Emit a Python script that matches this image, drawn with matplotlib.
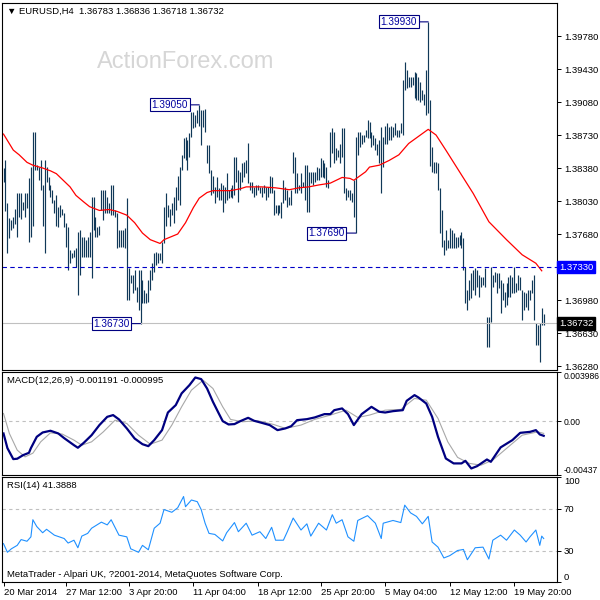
import matplotlib
matplotlib.use("Agg")
import matplotlib.pyplot as plt
import matplotlib.transforms as mtransforms
import numpy as np

plt.rcParams['font.family'] = ['Liberation Sans', 'DejaVu Sans']

# H4 bars, high / low (oldest first)
highs = [
    1.3838, 1.3846, 1.3801, 1.3785, 1.3783, 1.3786, 1.3795, 1.3811, 1.3811, 1.3811,
    1.3802, 1.3812, 1.3812, 1.3827, 1.3839, 1.3876, 1.3876, 1.3841, 1.3839, 1.3846,
    1.3820, 1.3846, 1.3839, 1.3828, 1.3820, 1.3815, 1.3804, 1.3809, 1.3797, 1.3799,
    1.3795, 1.3790, 1.3780, 1.3775, 1.3751, 1.3748, 1.3751, 1.3753, 1.3770, 1.3772,
    1.3765, 1.3765, 1.3762, 1.3765, 1.3770, 1.3807, 1.3807, 1.3786, 1.3775, 1.3777,
    1.3815, 1.3815, 1.3815, 1.3807, 1.3801, 1.3820, 1.3820, 1.3793, 1.3790, 1.3772,
    1.3772, 1.3772, 1.3774, 1.3806, 1.3732, 1.3725, 1.3725, 1.3730, 1.3712, 1.3730,
    1.3730, 1.3719, 1.3709, 1.3705, 1.3719, 1.3730, 1.3737, 1.3748, 1.3749, 1.3748,
    1.3748, 1.3760, 1.3797, 1.3811, 1.3799, 1.3795, 1.3801, 1.3807, 1.3818, 1.3830,
    1.3839, 1.3852, 1.3870, 1.3871, 1.3868, 1.3875, 1.3897, 1.3897, 1.3894, 1.3899,
    1.3905, 1.3899, 1.3899, 1.3901, 1.3862, 1.3862, 1.3836, 1.3830, 1.3818, 1.3828,
    1.3817, 1.3822, 1.3820, 1.3818, 1.3833, 1.3815, 1.3817, 1.3820, 1.3850, 1.3850,
    1.3836, 1.3834, 1.3843, 1.3844, 1.3846, 1.3865, 1.3823, 1.3823, 1.3818, 1.3820,
    1.3820, 1.3818, 1.3818, 1.3820, 1.3818, 1.3818, 1.3830, 1.3828, 1.3815, 1.3799,
    1.3799, 1.3799, 1.3802, 1.3825, 1.3818, 1.3815, 1.3807, 1.3815, 1.3855, 1.3850,
    1.3833, 1.3820, 1.3833, 1.3823, 1.3841, 1.3841, 1.3834, 1.3834, 1.3834, 1.3834,
    1.3839, 1.3838, 1.3849, 1.3846, 1.3843, 1.3839, 1.3825, 1.3876, 1.3880, 1.3876,
    1.3859, 1.3857, 1.3864, 1.3880, 1.3880, 1.3817, 1.3815, 1.3815, 1.3811, 1.3825,
    1.3871, 1.3876, 1.3876, 1.3873, 1.3873, 1.3878, 1.3889, 1.3887, 1.3876, 1.3873,
    1.3870, 1.3864, 1.3868, 1.3881, 1.3871, 1.3883, 1.3886, 1.3881, 1.3883, 1.3881,
    1.3886, 1.3878, 1.3878, 1.3886, 1.3931, 1.3950, 1.3942, 1.3934, 1.3934, 1.3934,
    1.3940, 1.3939, 1.3934, 1.3929, 1.3921, 1.3917, 1.3942, 1.3993, 1.3910, 1.3860,
    1.3844, 1.3844, 1.3843, 1.3817, 1.3793, 1.3762, 1.3772, 1.3762, 1.3774, 1.3772,
    1.3769, 1.3765, 1.3765, 1.3767, 1.3770, 1.3764, 1.3733, 1.3709, 1.3719, 1.3727,
    1.3730, 1.3732, 1.3730, 1.3725, 1.3722, 1.3722, 1.3732, 1.3680, 1.3680, 1.3733,
    1.3725, 1.3728, 1.3727, 1.3727, 1.3719, 1.3716, 1.3707, 1.3716, 1.3722, 1.3725,
    1.3722, 1.3733, 1.3716, 1.3725, 1.3722, 1.3709, 1.3707, 1.3705, 1.3709, 1.3709,
    1.3719, 1.3725, 1.3674, 1.3672, 1.3674, 1.3690, 1.36836,
]
lows = [
    1.3823, 1.3792, 1.3748, 1.3764, 1.3772, 1.3774, 1.3779, 1.3765, 1.3786, 1.3784,
    1.3793, 1.3786, 1.3796, 1.3760, 1.3765, 1.3777, 1.3836, 1.3836, 1.3825, 1.3815,
    1.3777, 1.3748, 1.3823, 1.3815, 1.3807, 1.3801, 1.3790, 1.3777, 1.3775, 1.3786,
    1.3788, 1.3775, 1.3754, 1.3730, 1.3737, 1.3743, 1.3744, 1.3733, 1.3703, 1.3725,
    1.3744, 1.3744, 1.3744, 1.3744, 1.3744, 1.3721, 1.3772, 1.3765, 1.3765, 1.3767,
    1.3793, 1.3783, 1.3790, 1.3790, 1.3790, 1.3788, 1.3788, 1.3786, 1.3753, 1.3754,
    1.3754, 1.3754, 1.3753, 1.3698, 1.3698, 1.3716, 1.3705, 1.3709, 1.3696, 1.3687,
    1.3673, 1.3695, 1.3695, 1.3695, 1.3696, 1.3709, 1.3719, 1.3728, 1.3735, 1.3737,
    1.3740, 1.3737, 1.3759, 1.3777, 1.3786, 1.3777, 1.3788, 1.3780, 1.3793, 1.3804,
    1.3799, 1.3836, 1.3849, 1.3846, 1.3836, 1.3850, 1.3871, 1.3880, 1.3881, 1.3886,
    1.3883, 1.3862, 1.3881, 1.3876, 1.3843, 1.3833, 1.3809, 1.3811, 1.3801, 1.3807,
    1.3804, 1.3804, 1.3791, 1.3801, 1.3804, 1.3806, 1.3807, 1.3806, 1.3809, 1.3823,
    1.3802, 1.3815, 1.3823, 1.3828, 1.3833, 1.3822, 1.3815, 1.3811, 1.3807, 1.3809,
    1.3815, 1.3811, 1.3807, 1.3811, 1.3804, 1.3807, 1.3812, 1.3811, 1.3788, 1.3790,
    1.3788, 1.3790, 1.3785, 1.3801, 1.3804, 1.3797, 1.3799, 1.3799, 1.3833, 1.3812,
    1.3811, 1.3815, 1.3811, 1.3818, 1.3804, 1.3791, 1.3791, 1.3822, 1.3820, 1.3823,
    1.3825, 1.3825, 1.3828, 1.3828, 1.3827, 1.3818, 1.3817, 1.3839, 1.3854, 1.3843,
    1.3846, 1.3850, 1.3843, 1.3850, 1.3811, 1.3804, 1.3807, 1.3804, 1.3802, 1.3786,
    1.3769, 1.3852, 1.3860, 1.3864, 1.3866, 1.3871, 1.3870, 1.3870, 1.3860, 1.3862,
    1.3857, 1.3852, 1.3843, 1.3811, 1.3839, 1.3864, 1.3864, 1.3868, 1.3868, 1.3871,
    1.3873, 1.3871, 1.3871, 1.3875, 1.3873, 1.3921, 1.3923, 1.3924, 1.3924, 1.3926,
    1.3912, 1.3910, 1.3910, 1.3908, 1.3910, 1.3905, 1.3894, 1.3896, 1.3840, 1.3834,
    1.3833, 1.3833, 1.3815, 1.3769, 1.3754, 1.3746, 1.3751, 1.3753, 1.3753, 1.3753,
    1.3753, 1.3753, 1.3754, 1.3756, 1.3753, 1.3730, 1.3695, 1.3687, 1.3698, 1.3700,
    1.3709, 1.3703, 1.3712, 1.3701, 1.3712, 1.3714, 1.3712, 1.3648, 1.3648, 1.3675,
    1.3712, 1.3717, 1.3705, 1.3711, 1.3684, 1.3698, 1.3691, 1.3693, 1.3701, 1.3701,
    1.3705, 1.3705, 1.3707, 1.3709, 1.3709, 1.3677, 1.3687, 1.3691, 1.3687, 1.3698,
    1.3705, 1.3677, 1.3650, 1.3650, 1.3632, 1.3672, 1.36718,
]

# red moving average (bar index, value)
ma_idx = [0, 5, 8, 12, 15, 20, 24, 27, 30, 34, 37, 41, 44, 49, 54, 58, 63, 67, 71, 75,
          80, 82, 89, 93, 97, 100, 104, 107, 116, 121, 124, 132, 139, 146, 151, 156, 161,
          167, 173, 177, 179, 185, 187, 192, 197, 202, 207, 213, 217, 221, 226, 233, 240,
          248, 257, 265, 272, 275]
ma_val = [1.3874, 1.3857, 1.3852, 1.3844, 1.3841, 1.3838, 1.3835, 1.3832, 1.3826, 1.3818,
          1.3809, 1.3802, 1.3797, 1.3793, 1.3794, 1.3792, 1.3788, 1.3780, 1.3769, 1.3762,
          1.3758, 1.3762, 1.3768, 1.3780, 1.3796, 1.3806, 1.3812, 1.3814, 1.3814, 1.3816,
          1.3818, 1.3818, 1.3817, 1.3815, 1.3817, 1.3818, 1.3820, 1.3822, 1.3828, 1.3827,
          1.3825, 1.3834, 1.3839, 1.3841, 1.3846, 1.3852, 1.3864, 1.3873, 1.3879, 1.3873,
          1.3857, 1.3834, 1.3811, 1.3781, 1.3762, 1.3746, 1.3737, 1.3729]

# MACD(12,26,9) main line and signal line
macd_idx = [0, 2, 5, 7, 10, 13, 14, 17, 20, 24, 28, 31, 36, 38, 41, 45, 49, 53, 56, 59,
            63, 67, 71, 74, 77, 81, 84, 88, 91, 95, 98, 101, 104, 107, 110, 112, 115, 118,
            121, 125, 128, 132, 136, 140, 144, 147, 150, 155, 159, 164, 167, 169, 173, 176,
            179, 183, 188, 192, 195, 199, 204, 206, 210, 212, 216, 219, 222, 226, 230, 234,
            236, 239, 242, 247, 249, 254, 260, 264, 269, 272, 274, 276]
macd_val = [-0.00100, -0.00219, -0.00308, -0.00305, -0.00276, -0.00257, -0.00219, -0.00127,
            -0.00092, -0.00078, -0.00100, -0.00138, -0.00195, -0.00216, -0.00176, -0.00114,
            -0.00032, 0.00035, 0.00049, 0.00014, -0.00059, -0.00141, -0.00187, -0.00203,
            -0.00154, -0.00073, 0.00070, 0.00130, 0.00225, 0.00292, 0.00354, 0.00341,
            0.00265, 0.00157, 0.00062, 0.00000, -0.00027, -0.00024, 0.00000, 0.00027,
            0.00003, -0.00014, -0.00032, -0.00073, -0.00059, -0.00041, 0.00008, 0.00016,
            0.00030, 0.00057, 0.00057, 0.00089, 0.00103, 0.00057, -0.00032, 0.00057,
            0.00116, 0.00076, 0.00070, 0.00081, 0.00089, 0.00165, 0.00211, 0.00192,
            0.00143, 0.00035, -0.00127, -0.00303, -0.00343, -0.00343, -0.00322, -0.00384,
            -0.00365, -0.00311, -0.00330, -0.00213, -0.00154, -0.00095, -0.00087, -0.00073,
            -0.00108, -0.001191]
sig_idx = [0, 3, 7, 11, 15, 19, 24, 30, 36, 40, 45, 51, 57, 63, 69, 75, 81, 86, 91, 96,
           102, 107, 112, 116, 122, 130, 138, 144, 152, 159, 167, 175, 181, 187, 195, 203,
           210, 216, 222, 227, 232, 238, 244, 250, 258, 265, 273, 276]
sig_val = [0.00062, -0.00100, -0.00235, -0.00290, -0.00260, -0.00168, -0.00095, -0.00105,
           -0.00154, -0.00195, -0.00168, -0.00087, 0.00008, -0.00019, -0.00114, -0.00187,
           -0.00154, -0.00032, 0.00116, 0.00251, 0.00332, 0.00265, 0.00116, 0.00014,
           -0.00005, 0.00003, -0.00027, -0.00059, -0.00032, 0.00014, 0.00049, 0.00089,
           0.00030, 0.00049, 0.00089, 0.00095, 0.00184, 0.00170, 0.00022, -0.00168,
           -0.00294, -0.00343, -0.00357, -0.00316, -0.00208, -0.00114, -0.00087, -0.000995]

# RSI(14)
rsi_idx = [0, 2, 4, 7, 9, 12, 14, 15, 17, 20, 22, 26, 31, 33, 36, 38, 40, 43, 45, 50,
           53, 55, 59, 63, 65, 69, 71, 74, 77, 80, 82, 86, 89, 92, 93, 96, 99, 101, 103,
           105, 108, 112, 114, 118, 120, 124, 127, 131, 134, 137, 139, 143, 145, 148, 152,
           155, 157, 161, 165, 168, 170, 173, 176, 179, 181, 186, 190, 193, 194, 199, 203,
           205, 208, 211, 214, 217, 219, 222, 225, 228, 232, 235, 237, 241, 245, 248, 250,
           254, 257, 261, 264, 267, 269, 272, 274, 275, 276]
rsi_val = [36.5, 28.3, 31.6, 34.9, 40.4, 38.8, 43.0, 59.3, 52.8, 46.9, 50.2, 44.6, 41.4,
           37.1, 39.8, 32.6, 43.7, 46.3, 51.2, 57.0, 54.4, 59.3, 44.6, 43.0, 31.6, 28.3,
           34.9, 30.7, 51.2, 56.0, 69.0, 66.4, 70.7, 81.4, 71.7, 78.1, 76.5, 69.0, 56.0,
           46.3, 45.3, 39.1, 46.9, 56.6, 47.9, 56.0, 44.6, 47.9, 41.4, 52.1, 39.8, 39.8,
           47.9, 60.9, 49.5, 55.4, 43.7, 56.0, 49.5, 64.1, 56.0, 59.3, 43.0, 38.8, 58.6,
           63.2, 56.0, 41.4, 56.0, 58.6, 56.6, 73.2, 65.8, 62.5, 55.4, 62.5, 38.1, 33.2,
           22.9, 25.1, 30.0, 31.0, 21.2, 32.6, 33.2, 21.9, 39.8, 44.6, 39.8, 49.5, 44.6,
           38.1, 43.0, 49.5, 34.9, 43.7, 41.3888]

price_ticks = [1.3978, 1.3943, 1.3908, 1.3873, 1.3838, 1.3803, 1.3768, 1.3698, 1.3663, 1.3628]
date_idx = [0, 32, 64, 97, 130, 162, 195, 228, 261]
date_labels = ['20 Mar 2014', '27 Mar 12:00', '3 Apr 20:00', '11 Apr 04:00', '18 Apr 12:00',
               '25 Apr 20:00', '5 May 04:00', '12 May 12:00', '19 May 20:00']
level_line = 1.3733
last_close = 1.36732
ann_idx = [70, 100, 180, 217]
ann_val = [1.3673, 1.3905, 1.3769, 1.3993]

bar_col = '#103858'
fs = 6.8
W = H = 600

fig = plt.figure(figsize=(6, 6), dpi=100)
fig.patch.set_facecolor('white')


def rect(top, bottom):
    return [2 / W, 1 - bottom / H, 555 / W, (bottom - top) / H]


ax = fig.add_axes(rect(3, 370))
macd_ax = fig.add_axes(rect(372, 475))
rsi_ax = fig.add_axes(rect(477, 582))

for a in (ax, macd_ax, rsi_ax):
    a.set_xlim(-0.77, 282.8)
    a.yaxis.tick_right()
    a.tick_params(axis='y', direction='out', length=3, width=0.7, labelsize=fs, pad=2)
    a.tick_params(axis='x', bottom=False, labelbottom=False)
    for s in a.spines.values():
        s.set_linewidth(0.8)
        s.set_color('black')

# price panel
x = np.arange(len(highs))
bars = ax.vlines(x, lows, highs, colors=bar_col, lw=0.85)
bars.set_snap(True)
ax.plot(ma_idx, ma_val, color='red', lw=0.9)
ax.axhline(level_line, color='#0000c8', lw=0.8, ls=(0, (4, 3)))
ax.axhline(last_close, color='#c0c0c0', lw=0.8)
ax.set_ylim(1.36238, 1.40130)
ax.set_yticks(price_ticks, [f'{p:.5f}' for p in price_ticks])

for i, v in zip(ann_idx, ann_val):
    ax.annotate(f'{v:.5f}', xy=(i, v), xytext=(-11, 0), textcoords='offset pixels',
                ha='right', va='center', fontsize=7.2, color='#0000a0',
                bbox=dict(boxstyle='square,pad=0.15', fc='white', ec='#000080', lw=0.8),
                arrowprops=dict(arrowstyle='-', color='#000080', lw=0.8,
                                shrinkA=0, shrinkB=0))

trans = mtransforms.blended_transform_factory(ax.transAxes, ax.transData)
ax.text(1.004, level_line, f'{level_line:.5f}', transform=trans, ha='left', va='center',
        fontsize=fs, color='white', clip_on=False, zorder=10,
        bbox=dict(boxstyle='square,pad=0.2', fc='#0000ff', ec='#0000ff'))
ax.text(1.004, last_close, f'{last_close:.5f}', transform=trans, ha='left', va='center',
        fontsize=fs, color='white', clip_on=False, zorder=10,
        bbox=dict(boxstyle='square,pad=0.2', fc='black', ec='black'))

ax.text(0.3315, 0.839, 'ActionForex.com', transform=ax.transAxes, ha='center',
        va='center', fontsize=17, color='#d6d6d6', zorder=0)
fig.text(7 / W, 1 - 11 / H, '\u25bc EURUSD,H4  1.36783 1.36836 1.36718 1.36732',
         ha='left', va='center', fontsize=fs, color='black')

# MACD panel
macd_ax.axhline(0, color='#c0c0c0', lw=0.8, ls=(0, (3, 3)))
macd_ax.plot(sig_idx, sig_val, color='#a8a8a8', lw=0.8)
macd_ax.plot(macd_idx, macd_val, color='#000080', lw=1.6)
macd_ax.set_ylim(-0.00437, 0.003986)
macd_ax.set_yticks([0.003986, 0.0, -0.00437], ['0.003986', '0.00', '-0.00437'])
macd_ax.tick_params(axis='y', labelsize=6.2, pad=1.5)
tl = macd_ax.get_yticklabels()
tl[0].set_va('top')
tl[2].set_va('bottom')
macd_ax.text(0.009, 0.965, 'MACD(12,26,9) -0.001191 -0.000995', transform=macd_ax.transAxes,
             ha='left', va='top', fontsize=fs)

# RSI panel
rsi_ax.axhline(70, color='#c0c0c0', lw=0.8, ls=(0, (3, 3)))
rsi_ax.axhline(30, color='#c0c0c0', lw=0.8, ls=(0, (3, 3)))
rsi_ax.plot(rsi_idx, rsi_val, color='#1e90ff', lw=0.8)
rsi_ax.set_ylim(0, 100)
rsi_ax.set_yticks([100, 70, 30, 0], ['100', '70', '30', '0'])
tl = rsi_ax.get_yticklabels()
tl[0].set_va('top')
tl[3].set_va('bottom')
rsi_ax.text(0.009, 0.965, 'RSI(14) 41.3888', transform=rsi_ax.transAxes,
            ha='left', va='top', fontsize=fs)
rsi_ax.text(0.009, 0.025, 'MetaTrader - Alpari UK, ?2001-2014, MetaQuotes Software Corp.',
            transform=rsi_ax.transAxes, ha='left', va='bottom', fontsize=fs)
rsi_ax.tick_params(axis='x', bottom=True, labelbottom=True, direction='out', length=3,
                   width=0.7, labelsize=fs, pad=1)
rsi_ax.set_xticks(date_idx, date_labels)
for lbl in rsi_ax.get_xticklabels():
    lbl.set_ha('left')

fig.savefig('out.png', dpi=100)
